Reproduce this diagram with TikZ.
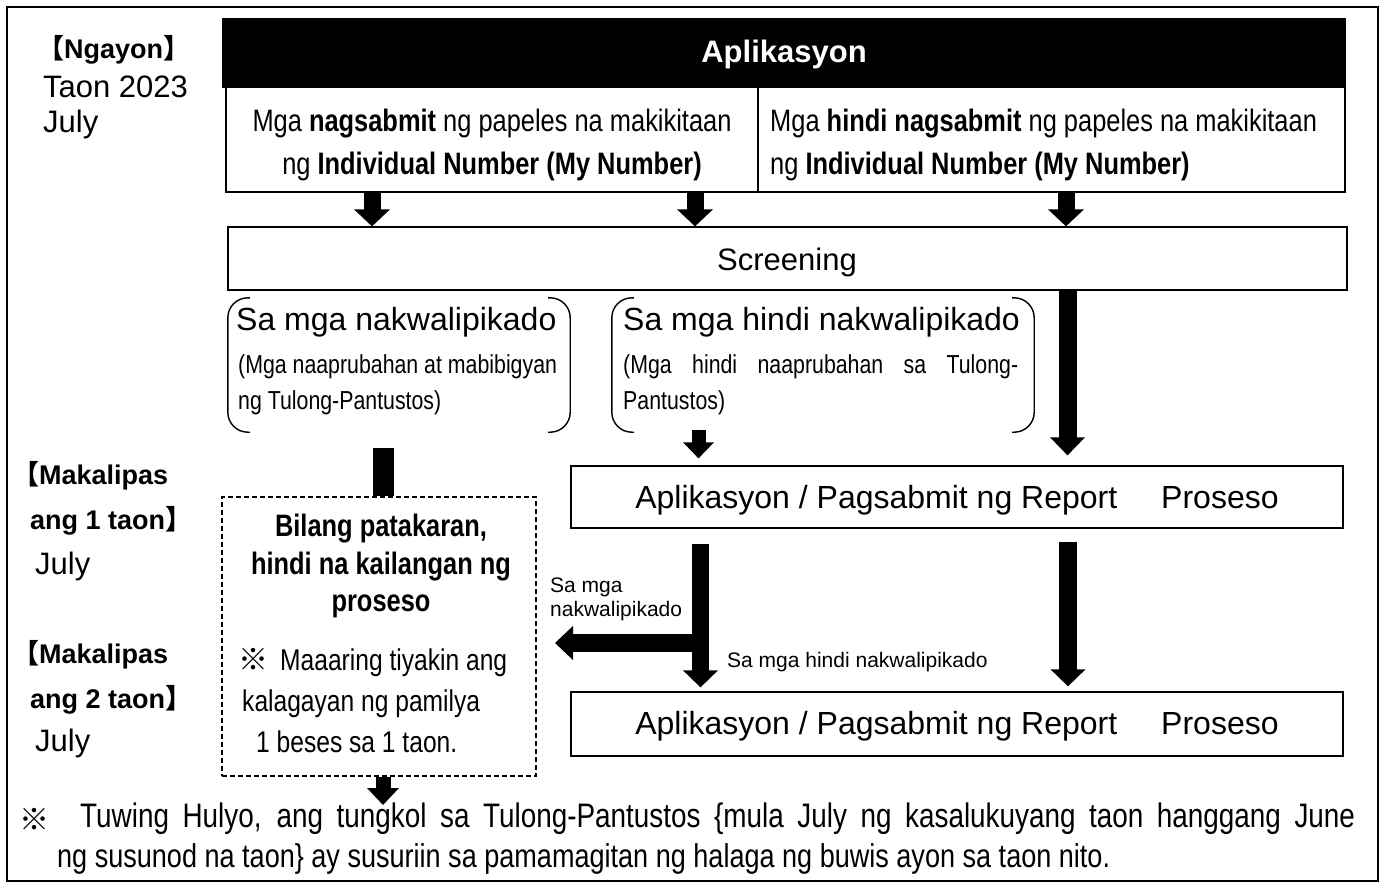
\documentclass[tikz,border=0pt]{standalone}
\usepackage{fontspec}
\setmainfont{Liberation Sans}
\newfontfamily\nar[FakeStretch=0.82]{Liberation Sans}
\newfontfamily\cjk{Noto Sans CJK JP}
\usetikzlibrary{calc}
\newcommand\fsz[2]{\fontsize{#1}{#2}\selectfont}
\newcommand\kome{{\cjk ※}}
\newcommand\lbr{{\cjk\bfseries 【}}
\newcommand\rbr{{\cjk\bfseries 】}}
% fat downward arrow: start, tip, shaft width, head width, head length
\newcommand\vfat[5]{%
  \draw[line width=#3] (#1) -- ($(#2)+(0,-#5+0.5)$);
  \fill ($(#2)+(-#4/2,-#5)$) -- ($(#2)+(#4/2,-#5)$) -- (#2) -- cycle;}
% fat leftward arrow
\newcommand\hfatl[5]{%
  \draw[line width=#3] (#1) -- ($(#2)+(#5-0.5,0)$);
  \fill ($(#2)+(#5,-#4/2)$) -- ($(#2)+(#5,#4/2)$) -- (#2) -- cycle;}
\begin{document}
\begin{tikzpicture}[x=1pt,y=-1pt,
  box/.style={draw,line width=1.3pt,inner sep=0pt},
  lab/.style={inner sep=0pt,anchor=west},
  brk/.style={line width=1.4pt,rounded corners=20pt},
  dbox/.style={draw,line width=1.2pt,dash pattern=on 5pt off 3pt,inner sep=0pt}]
\useasboundingbox (0,0) rectangle (1382,888);
\draw[line width=1.5pt] (7,7) rectangle (1378,881);

% left time labels
\node[lab,font=\bfseries\fsz{27}{32}] (now) at (37,50) {\lbr Ngayon\rbr};
\node[lab,font=\fsz{31}{37}] (y23) at (43,87) {Taon 2023};
\node[lab,font=\fsz{31}{37}] (jul0) at (43,124) {July};
\node[lab,font=\bfseries\fsz{27}{32}] (m1a) at (12,476) {\lbr Makalipas};
\node[lab,font=\bfseries\fsz{27}{32}] (m1b) at (30,521) {ang 1 taon\rbr};
\node[lab,font=\fsz{31}{37}] (jul1) at (35,566) {July};
\node[lab,font=\bfseries\fsz{27}{32}] (m2a) at (12,655) {\lbr Makalipas};
\node[lab,font=\bfseries\fsz{27}{32}] (m2b) at (30,700) {ang 2 taon\rbr};
\node[lab,font=\fsz{31}{37}] (jul2) at (35,743) {July};

% header and cells
\node[box,fill=black,minimum width=1122pt,minimum height=68pt] (head) at (784,53) {};
\node[inner sep=0pt,text=white,font=\bfseries\fsz{31}{37}] (headt) at (784,54) {Aplikasyon};
\node[box,minimum width=532pt,minimum height=105pt] (cellL) at (492,139.5) {};
\node[box,minimum width=587pt,minimum height=105pt] (cellR) at (1051.5,139.5) {};
\node[inner sep=0pt,align=center,font=\nar\fsz{31}{43}] (cellLt) at (492,145)
  {Mga \textbf{nagsabmit} ng papeles na makikitaan\\ng \textbf{Individual Number (My Number)}};
\node[lab,align=left,font=\nar\fsz{31}{43}] (cellRt) at (770,145)
  {Mga \textbf{hindi nagsabmit} ng papeles na makikitaan\\ng \textbf{Individual Number (My Number)}};

% screening
\node[box,minimum width=1119pt,minimum height=63pt] (screen) at (787.5,258.5) {};
\node[inner sep=0pt,font=\fsz{31}{37}] (screent) at (787,262) {Screening};

% arrow axes
\coordinate (ax1) at (372,0);
\coordinate (ax2) at (695,0);
\coordinate (ax3) at (1066,0);
\coordinate (ax4) at (1067.5,0);
\coordinate (ax5) at (698.5,0);
\coordinate (ax6) at (700.5,0);
\coordinate (ax7) at (1068,0);
\coordinate (ax8) at (383.5,0);
\coordinate (ax9) at (383,0);

\vfat{cellL.south -| ax1}{screen.north -| ax1}{17pt}{36}{17}
\vfat{cellL.south -| ax2}{screen.north -| ax2}{17pt}{36}{17}
\vfat{cellR.south -| ax3}{screen.north -| ax3}{17pt}{36}{17}

% qualification groups
\node[minimum width=342pt,minimum height=134pt,inner sep=0pt] (g1) at (399,365) {};
\node[minimum width=422pt,minimum height=134pt,inner sep=0pt] (g2) at (823,365) {};
\draw[brk] ([xshift=22pt]g1.north west) -- (g1.north west) -- (g1.south west) -- ([xshift=22pt]g1.south west);
\draw[brk] ([xshift=-22pt]g1.north east) -- (g1.north east) -- (g1.south east) -- ([xshift=-22pt]g1.south east);
\draw[brk] ([xshift=22pt]g2.north west) -- (g2.north west) -- (g2.south west) -- ([xshift=22pt]g2.south west);
\draw[brk] ([xshift=-22pt]g2.north east) -- (g2.north east) -- (g2.south east) -- ([xshift=-22pt]g2.south east);
\node[lab,font=\fsz{32}{38}] (g1a) at (236,322) {Sa mga nakwalipikado};
\node[lab,align=left,font=\nar\fsz{26}{36}] (g1b) at (238,385)
  {(Mga naaprubahan at mabibigyan\\ng Tulong-Pantustos)};
\node[lab,font=\fsz{32}{38}] (g2a) at (623,322) {Sa mga hindi nakwalipikado};
\node[lab,align=left,font=\nar\fsz{26}{36}] (g2b) at (623,385)
  {\makebox[395pt][s]{(Mga hindi naaprubahan sa Tulong-}\\Pantustos)};

% process boxes
\node[box,minimum width=772pt,minimum height=62pt] (a1) at (957,497) {};
\node[inner sep=0pt,font=\fsz{32}{38}] (a1t) at (957,500) {Aplikasyon / Pagsabmit ng Report\hspace{44pt}Proseso};
\node[box,minimum width=772pt,minimum height=64pt] (a2) at (957,724) {};
\node[inner sep=0pt,font=\fsz{32}{38}] (a2t) at (957,726) {Aplikasyon / Pagsabmit ng Report\hspace{44pt}Proseso};

% dashed box
\node[dbox,minimum width=314pt,minimum height=279pt] (dash) at (379,636.5) {};
\node[inner sep=0pt,align=center,font=\nar\bfseries\fsz{31}{37.5}] (dt1) at (381,566)
  {Bilang patakaran,\\hindi na kailangan ng\\proseso};
\node[lab,align=left,font=\nar\fsz{30}{41}] (dt2) at (238,701)
  {\kome\hspace{12pt}Maaaring tiyakin ang\\\hspace*{4pt}kalagayan ng pamilya\\\hspace*{18pt}1 beses sa 1 taon.};

% connectors
\coordinate (t4) at ($(a1.north -| ax4)+(0,-10)$);
\vfat{screen.south -| ax4}{t4}{18pt}{35}{18}
\coordinate (s5) at ($(g2.south -| ax5)+(0,-2)$);
\coordinate (t5) at ($(a1.north -| ax5)+(0,-7)$);
\vfat{s5}{t5}{14pt}{31}{16}
\draw[line width=21pt] ($(g1.south -| ax8)+(0,16)$) -- (dash.north -| ax8);
\coordinate (s6) at ($(a1.south -| ax6)+(0,15)$);
\coordinate (t6) at ($(a2.north -| ax6)+(0,-4)$);
\vfat{s6}{t6}{17pt}{35}{17}
\coordinate (s7) at ($(a1.south -| ax7)+(0,13)$);
\coordinate (t7) at ($(a2.north -| ax7)+(0,-5)$);
\vfat{s7}{t7}{18pt}{35}{17}
\coordinate (bs) at (ax6 |- 0,643);
\coordinate (bt) at (555,643);
\hfatl{bs}{bt}{18pt}{34}{18}
\coordinate (t9) at (383,805);
\vfat{dash.south -| ax9}{t9}{15pt}{32}{17}

\node[lab,align=left,font=\fsz{21}{24}] (lq) at (550,599) {Sa mga\\nakwalipikado};
\node[lab,font=\fsz{21}{24}] (lnq) at (727,662) {Sa mga hindi nakwalipikado};

% note
\node[lab,font=\fsz{30}{34}] (nk) at (19,819) {\kome};
\node[lab,font=\nar\fsz{34}{38}] (n1) at (80,819)
  {\makebox[1275pt][s]{Tuwing Hulyo, ang tungkol sa Tulong-Pantustos \{mula July ng kasalukuyang taon hanggang June}};
\node[lab,font=\nar\fsz{33}{38}] (n2) at (57,859)
  {ng susunod na taon\} ay susuriin sa pamamagitan ng halaga ng buwis ayon sa taon nito.};
\end{tikzpicture}
\end{document}
